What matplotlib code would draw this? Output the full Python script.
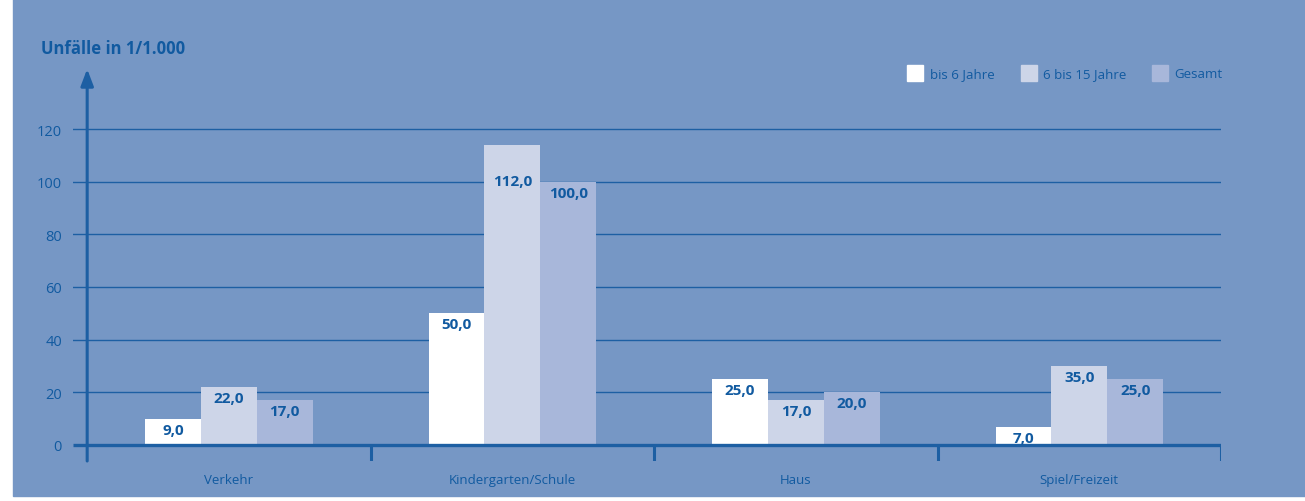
import matplotlib.pyplot as plt
from matplotlib.patches import Rectangle

# data
categories = ['Verkehr', 'Kindergarten/Schule', 'Haus', 'Spiel/Freizeit']
series = ['bis 6 Jahre', '6 bis 15 Jahre', 'Gesamt']
# bar heights as drawn in the picture
bis6 = [10, 50, 25, 7]
bis15 = [22, 114, 17, 30]
gesamt = [17, 100, 20, 25]
# printed value labels
lab_bis6 = ['9,0', '50,0', '25,0', '7,0']
lab_bis15 = ['22,0', '112,0', '17,0', '35,0']
lab_gesamt = ['17,0', '100,0', '20,0', '25,0']
yticks = [0, 20, 40, 60, 80, 100, 120]

bg = '#7697c5'
txt = '#115aa0'
line = '#1d5fa3'
colors = ['#ffffff', '#cdd5e8', '#a8b7da']

plt.rcParams['font.family'] = ['Open Sans', 'DejaVu Sans']

W, H = 1305, 502
fig = plt.figure(figsize=(W / 100, H / 100), dpi=100)
fig.patch.set_facecolor('white')
fig.add_artist(Rectangle((13 / W, 5 / H), 1 - 13 / W, 1 - 5 / H,
                         transform=fig.transFigure, color=bg, zorder=-10))

ax = fig.add_axes([73 / W, 40 / H, 1148 / W, 392 / H])
ax.set_facecolor('none')
for s in ax.spines.values():
    s.set_visible(False)
ax.set_xlim(-0.05, 4.0)
ax.set_ylim(-6.1, 142.8)

# grid lines
for t in yticks[1:]:
    ax.plot([-0.05, 4.0], [t, t], color=line, lw=1.0, zorder=1)
ax.plot([-0.05, 4.0], [0, 0], color=line, lw=2.4, zorder=3, solid_capstyle='butt')

# y axis with arrow
ax.annotate('', xy=(0, 142.8), xytext=(0, -6.1),
            arrowprops=dict(arrowstyle='-|>,head_width=0.38,head_length=1.0',
                            color=line, lw=2.2, shrinkA=0, shrinkB=0), zorder=4)
# category separators
for xs in [1, 2, 3, 4]:
    ax.plot([xs, xs], [0, -6.1], color=line, lw=2.2, zorder=3, solid_capstyle='butt')

bw = 0.197
all_vals = [bis6, bis15, gesamt]
all_labs = [lab_bis6, lab_bis15, lab_gesamt]
for k in range(3):
    xs = [i + 0.5 + (k - 1) * bw for i in range(4)]
    ax.bar(xs, all_vals[k], width=bw, color=colors[k], zorder=2)
    for x, v, lab in zip(xs, all_vals[k], all_labs[k]):
        off = -3
        if v > 110:
            off = -21
        ax.annotate(lab, (x, v), xytext=(0, off), textcoords='offset points',
                    ha='center', va='top', fontsize=11, fontweight='bold',
                    color=txt, zorder=5)

ax.set_yticks(yticks)
ax.set_yticklabels([str(t) for t in yticks], color=txt, fontsize=10.5)
ax.set_xticks([0.5, 1.5, 2.5, 3.5])
ax.set_xticklabels(categories, color=txt, fontsize=9.5)
ax.tick_params(axis='both', length=0)
ax.tick_params(axis='y', pad=8)
ax.tick_params(axis='x', pad=9)

fig.text(41 / W, 1 - 49 / H, 'Unfälle in 1/1.000', color=txt, fontsize=12,
         fontweight='bold', va='center', ha='left')

# legend
for sx, tx, name, c in zip([907, 1021, 1152], [930, 1043, 1174], series, colors):
    fig.add_artist(Rectangle((sx / W, 1 - 82 / H), 16 / W, 16 / H,
                             transform=fig.transFigure, color=c))
    fig.text(tx / W, 1 - 75 / H, name, color=txt, fontsize=9.5, va='center', ha='left')

fig.savefig('out.png', dpi=100)
